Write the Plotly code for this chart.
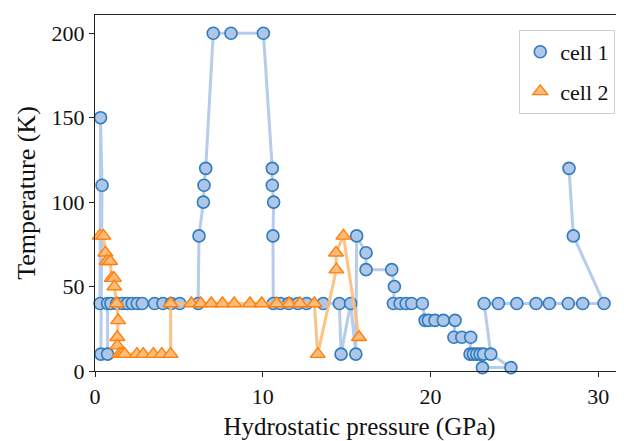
import plotly.graph_objects as go

# cell 1 (circles)
cell1_pressure = [0.30, 0.33, 0.42, 0.35, 0.75, 0.75, 0.95, 1.30, 1.63, 1.93, 2.22, 2.52, 2.82,
                  3.55, 4.05, 4.55, 5.05, 6.15, 6.20, 6.46, 6.50, 6.60, 7.05, 8.11, 10.04,
                  10.57, 10.57, 10.65, 10.61, 10.63, 11.05, 11.55, 12.10, 12.62, 13.61, 14.57,
                  14.67, 15.24, 15.55, 15.60, 16.16, 16.16, 17.69, 17.85, 17.79, 18.19, 18.55,
                  18.88, 19.52, 19.68, 19.88, 20.27, 20.77, 21.47, 21.40, 21.87, 22.40, 22.36,
                  22.56, 22.76, 22.96, 23.16, 23.10, 24.80, 23.60, 23.20, 24.05, 25.15, 26.30,
                  27.09, 28.22, 29.08, 30.35, 28.52, 28.26]
cell1_temp = [40, 150, 110, 10, 10, 40, 40, 40, 40, 40, 40, 40, 40,
              40, 40, 40, 40, 40, 80, 100, 110, 120, 200, 200, 200,
              120, 110, 100, 80, 40, 40, 40, 40, 40, 40, 40,
              10, 40, 10, 80, 70, 60, 60, 50, 40, 40, 40,
              40, 40, 30, 30, 30, 30, 30, 20, 20, 20, 10,
              10, 10, 10, 10, 2, 2, 10, 40, 40, 40, 40,
              40, 40, 40, 40, 80, 120]

# cell 2 (triangles)
cell2_pressure = [0.28, 0.50, 0.62, 0.70, 0.90, 1.00, 1.13, 1.15, 1.30, 1.38, 1.33, 1.33,
                  1.45, 1.60, 1.77, 2.50, 2.88, 3.48, 3.98, 4.51, 4.51, 5.74, 6.30, 6.93,
                  7.60, 8.30, 9.24, 9.94, 10.83, 11.58, 12.22, 13.08, 13.28, 14.39, 14.37,
                  14.81, 15.74]
cell2_temp = [80, 80, 70, 65, 65, 55, 55, 50, 40, 30, 20, 15,
              10, 10, 10, 10, 10, 10, 10, 10, 40, 40, 40, 40,
              40, 40, 40, 40, 40, 40, 40, 40, 10, 60, 70,
              80, 20]

series_names = ["cell 1", "cell 2"]

FONT = "Liberation Serif"
C1_MARKER = dict(symbol="circle", size=12, color="#aec7e8",
                 line=dict(color="#2f7bbf", width=1.6))
C2_MARKER = dict(symbol="triangle-up", size=13, color="#ffbb78",
                 line=dict(color="#ff7f0e", width=1.4))

fig = go.Figure()

fig.add_trace(go.Scatter(
    x=cell1_pressure, y=cell1_temp, mode="lines+markers", showlegend=False,
    line=dict(color="rgba(174,199,232,0.9)", width=3),
    marker=C1_MARKER, cliponaxis=False))
fig.add_trace(go.Scatter(
    x=cell2_pressure, y=cell2_temp, mode="lines+markers", showlegend=False,
    line=dict(color="rgba(255,187,120,0.9)", width=3),
    marker=C2_MARKER, cliponaxis=False))

# legend-only entries (markers only)
fig.add_trace(go.Scatter(x=[None], y=[None], mode="markers", name=series_names[0],
                         legendgroup="a", marker=C1_MARKER))
fig.add_trace(go.Scatter(x=[None], y=[None], mode="markers", name=series_names[1],
                         legendgroup="b", marker=C2_MARKER))

# page body adds an 8px offset; compensate by shrinking the figure
fig.update_layout(
    width=616, height=433,
    margin=dict(l=87, r=0, t=7, b=70),
    paper_bgcolor="white", plot_bgcolor="white",
    font=dict(family=FONT, size=17, color="#111"),
    legend=dict(x=0.802, y=0.958, xanchor="left", yanchor="top",
                bgcolor="rgba(255,255,255,0.8)", bordercolor="#d0d0d0", borderwidth=1,
                font=dict(family=FONT, size=22), itemwidth=30,
                tracegroupgap=8),
    showlegend=True,
)
fig.update_xaxes(
    range=[0, 31.54], tickvals=[0, 10, 20, 30],
    showgrid=False, zeroline=False, showline=True, linecolor="#222", linewidth=1.3,
    mirror=True, ticks="outside", ticklen=5, tickcolor="#222",
    tickfont=dict(family=FONT, size=22),
    title=dict(text="Hydrostatic pressure (GPa)", font=dict(family=FONT, size=25), standoff=9),
)
fig.update_yaxes(
    range=[0, 210.8], tickvals=[0, 50, 100, 150, 200],
    showgrid=False, zeroline=False, showline=True, linecolor="#222", linewidth=1.3,
    ticks="outside", ticklen=5, tickcolor="#222",
    tickfont=dict(family=FONT, size=22),
    title=dict(text="Temperature (K)", font=dict(family=FONT, size=26), standoff=8),
)

fig.write_html("out.html")
